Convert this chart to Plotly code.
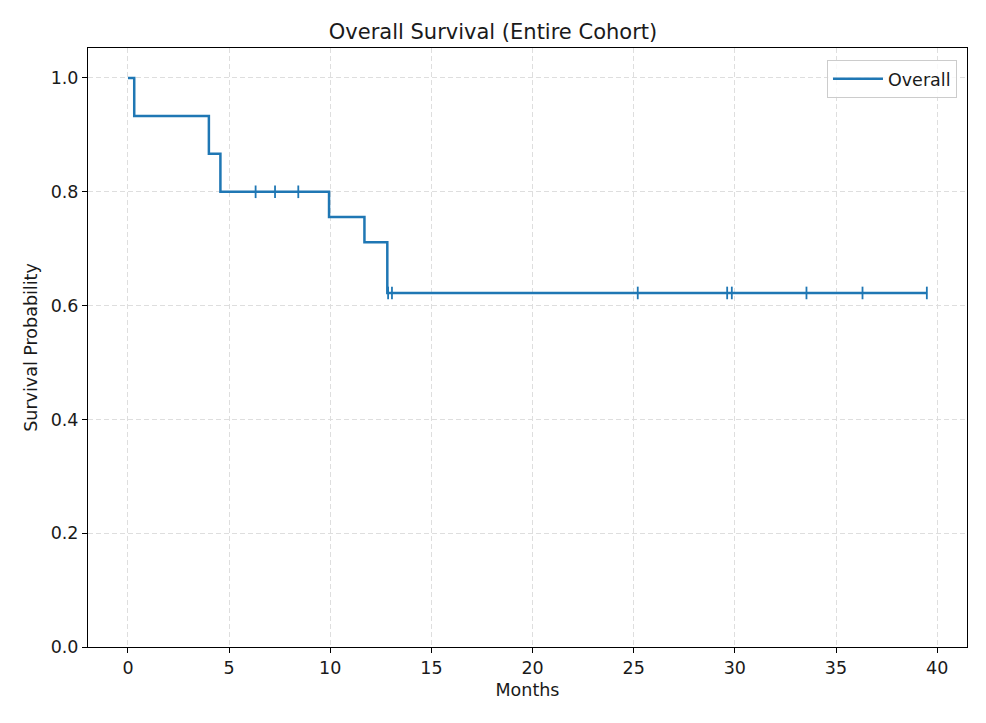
import numpy as np
import plotly.graph_objects as go

# Kaplan-Meier step curve (event times in months, survival probability)
event_times = [0.0, 0.31, 4.0, 4.57, 9.94, 11.69, 12.82, 39.5]
survival = [1.0, 0.9333, 0.8667, 0.8, 0.7556, 0.7111, 0.6222, 0.6222]

# Censored observations (months)
censor_times = [6.31, 7.27, 8.42, 12.86, 13.05, 25.2, 29.62, 29.85, 33.54, 36.31, 39.49]

x_ticks = [0, 5, 10, 15, 20, 25, 30, 35, 40]
y_ticks = [0.0, 0.2, 0.4, 0.6, 0.8, 1.0]

# survival value at each censor time (step lookup)
idx = np.searchsorted(np.array(event_times), np.array(censor_times), side="right") - 1
censor_surv = [survival[i] for i in idx]

BLUE = "#1f77b4"
FONT = "DejaVu Sans"
TXT = "#1a1a1a"

# page body has an 8px margin; figure sized to fit the 986x723 window
W, H = 970, 707

fig = go.Figure()
fig.add_trace(go.Scatter(
    x=event_times, y=survival, mode="lines", line=dict(color=BLUE, width=2.5, shape="hv"),
    name="Overall", showlegend=True,
))
fig.add_trace(go.Scatter(
    x=censor_times, y=censor_surv, mode="markers",
    marker=dict(symbol="line-ns-open", size=9, color=BLUE, line=dict(color=BLUE, width=1.8)),
    showlegend=False, hoverinfo="skip",
))

axis_common = dict(
    showline=True, linecolor="black", linewidth=1, mirror=True,
    ticks="outside", ticklen=5, tickcolor="black", tickwidth=1,
    showgrid=True, gridcolor="#dedede", griddash="5px,3px", gridwidth=1.3,
    zeroline=False, tickfont=dict(family=FONT, size=17.5, color=TXT),
)

fig.update_layout(
    width=W, height=H,
    margin=dict(l=80, r=11, t=40, b=68, autoexpand=False),
    paper_bgcolor="white", plot_bgcolor="white",
    font=dict(family=FONT, color=TXT),
    title=dict(text="Overall Survival (Entire Cohort)", x=0.5, xanchor="center",
               y=1 - 24 / H, yanchor="middle", font=dict(family=FONT, size=21, color=TXT)),
    xaxis=dict(range=[-1.975, 41.475], tickvals=x_ticks, automargin=False,
               title=dict(text="Months", font=dict(family=FONT, size=17.5, color=TXT), standoff=6),
               **axis_common),
    yaxis=dict(range=[0, 1.0527], tickvals=y_ticks, tickformat=".1f", automargin=False,
               title=dict(text="Survival Probability", font=dict(family=FONT, size=17.5, color=TXT), standoff=8),
               **axis_common),
    legend=dict(x=0.9886, y=0.98, xanchor="right", yanchor="top", itemwidth=50,
                bgcolor="rgba(255,255,255,0.8)", bordercolor="#cccccc", borderwidth=1,
                font=dict(family=FONT, size=17.5, color=TXT)),
)

fig.write_html("out.html")
